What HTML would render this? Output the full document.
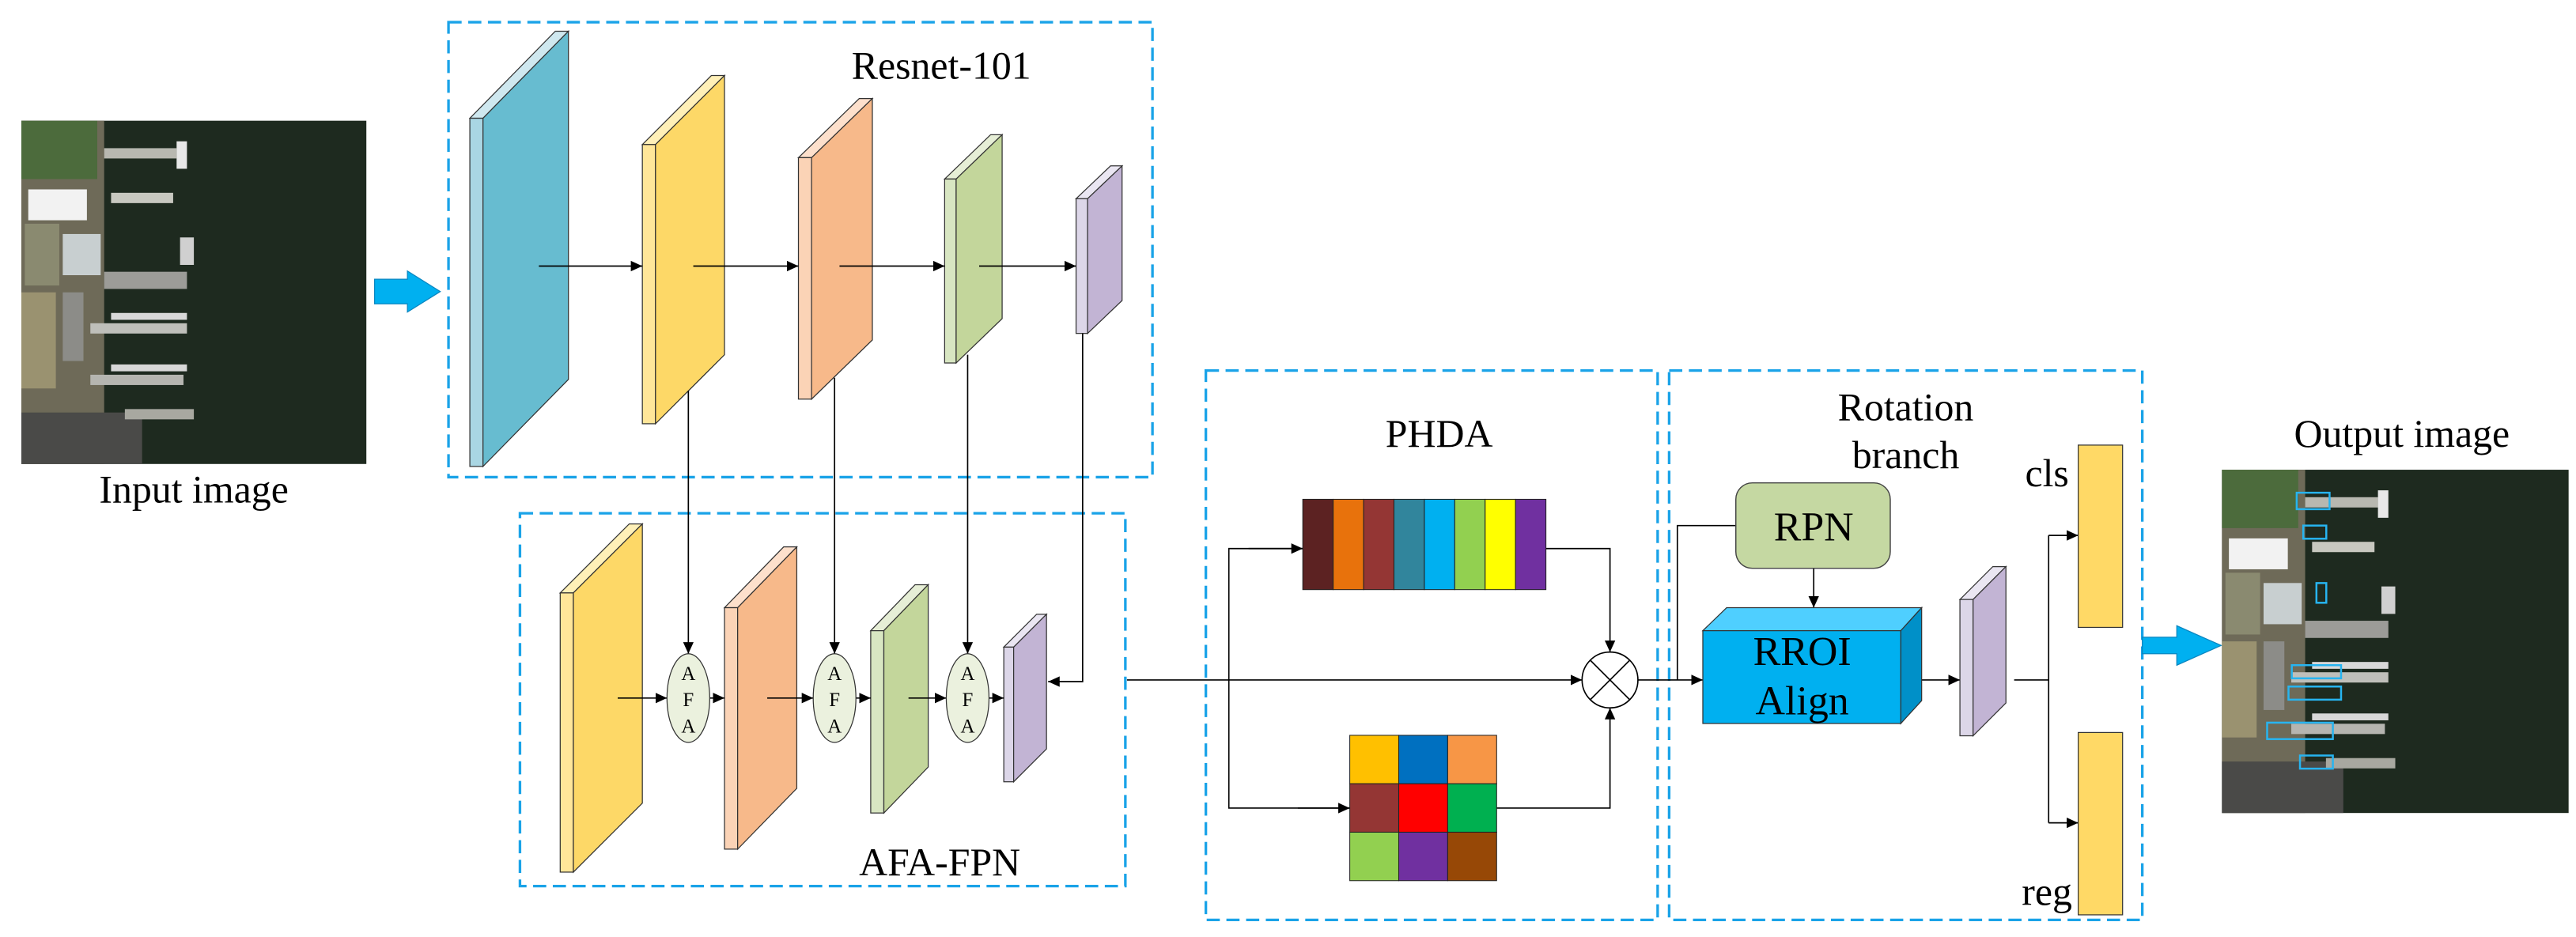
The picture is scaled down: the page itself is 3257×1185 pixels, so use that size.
<!DOCTYPE html>
<html><head><meta charset="utf-8"><style>
html,body{margin:0;padding:0;background:#fff;}
svg{display:block;}
text{font-family:"Liberation Serif",serif;fill:#000;}
</style></head><body>
<svg width="3257" height="1185" viewBox="0 0 1568 570.5" preserveAspectRatio="none" xmlns="http://www.w3.org/2000/svg">
<defs>
<marker id="ar" markerWidth="8" markerHeight="8" refX="7" refY="4" orient="auto" markerUnits="userSpaceOnUse"><path d="M0,0.8 L7,4 L0,7.2z" fill="#000"/></marker>
<g id="aer">
<rect x="0" y="0" width="100" height="100" fill="#1e2a1f"/>
<rect x="0" y="0" width="24" height="100" fill="#6e6a58"/>
<rect x="0" y="0" width="22" height="17" fill="#4c6b3c"/>
<rect x="2" y="20" width="17" height="9" fill="#f2f2f2"/>
<rect x="1" y="30" width="10" height="18" fill="#8a8a70"/>
<rect x="12" y="33" width="11" height="12" fill="#c8cfd0"/>
<rect x="0" y="50" width="10" height="28" fill="#9a9270"/>
<rect x="12" y="50" width="6" height="20" fill="#8c8c88"/>
<rect x="0" y="85" width="35" height="15" fill="#4a4a48"/>
<rect x="24" y="8" width="21" height="3" fill="#b8b8b0"/>
<rect x="24" y="44" width="24" height="5" fill="#9c9c98"/>
<rect x="20" y="59" width="28" height="3" fill="#bfbfba"/>
<rect x="26" y="56" width="22" height="2" fill="#d8d8d8"/>
<rect x="20" y="74" width="27" height="3" fill="#b5b5b0"/>
<rect x="26" y="71" width="22" height="2" fill="#d8d8d8"/>
<rect x="30" y="84" width="20" height="3" fill="#a8a8a0"/>
<rect x="26" y="21" width="18" height="3" fill="#c8c8c0"/>
<rect x="45" y="6" width="3" height="8" fill="#e8e8e8"/>
<rect x="46" y="34" width="4" height="8" fill="#d0d0d0"/>
</g>
</defs>

<!-- input image -->
<g transform="translate(13,73.5) scale(2.1,2.09)"><use href="#aer"/></g>
<text x="118" y="306" font-size="24" text-anchor="middle">Input image</text>
<path d="M228,170 L248,170 L248,165 L268,177.5 L248,190 L248,185 L228,185z" fill="#00b0f0" stroke="#0a86c0" stroke-width="0.6"/>

<!-- dashed boxes -->
<g fill="none" stroke="#1aa3e8" stroke-width="1.6" stroke-dasharray="8,4">
<rect x="273" y="13.5" width="428.5" height="277"/>
<rect x="316.5" y="312.5" width="368.5" height="227"/>
<rect x="734" y="225.6" width="275" height="334.5"/>
<rect x="1016" y="225.6" width="288" height="334.5"/>
</g>
<text x="573" y="48" font-size="24" text-anchor="middle">Resnet-101</text>
<text x="572" y="533" font-size="24" text-anchor="middle">AFA-FPN</text>

<!-- slabs -->
<g stroke="#333" stroke-width="0.6">
<!-- blue -->
<polygon points="286,72 338,19 346,19 294,72" fill="#cfe8ef"/>
<rect x="286" y="72" width="8" height="212" fill="#a9d6e3"/>
<polygon points="294,72 346,19 346,231 294,284" fill="#67bcd0"/>
<!-- yellow -->
<polygon points="391,88 433,46 441,46 399,88" fill="#fff0b8"/>
<rect x="391" y="88" width="8" height="170" fill="#ffe699"/>
<polygon points="399,88 441,46 441,216 399,258" fill="#fdd867"/>
<!-- orange -->
<polygon points="486,96 523,60 531,60 494,96" fill="#fde0cc"/>
<rect x="486" y="96" width="8" height="147" fill="#fbd3b6"/>
<polygon points="494,96 531,60 531,207 494,243" fill="#f7b98a"/>
<!-- green -->
<polygon points="575,109 603,82 610,82 582,109" fill="#e6eed6"/>
<rect x="575" y="109" width="7" height="112" fill="#d8e6c2"/>
<polygon points="582,109 610,82 610,194 582,221" fill="#c3d69b"/>
<!-- purple -->
<polygon points="655,121 676,101 683,101 662,121" fill="#eae6f2"/>
<rect x="655" y="121" width="7" height="82" fill="#dcd6e8"/>
<polygon points="662,121 683,101 683,183 662,203" fill="#c2b4d4"/>

<!-- FPN slabs -->
<polygon points="341,361 383,319 391,319 349,361" fill="#fff0b8"/>
<rect x="341" y="361" width="8" height="170" fill="#ffe699"/>
<polygon points="349,361 391,319 391,489 349,531" fill="#fdd867"/>
<polygon points="441,370 477,333 485,333 449,370" fill="#fde0cc"/>
<rect x="441" y="370" width="8" height="147" fill="#fbd3b6"/>
<polygon points="449,370 485,333 485,480 449,517" fill="#f7b98a"/>
<polygon points="530,384 557,356 565,356 538,384" fill="#e6eed6"/>
<rect x="530" y="384" width="8" height="111" fill="#d8e6c2"/>
<polygon points="538,384 565,356 565,467 538,495" fill="#c3d69b"/>
<polygon points="611,394 631,374 637,374 617,394" fill="#eae6f2"/>
<rect x="611" y="394" width="6" height="82" fill="#dcd6e8"/>
<polygon points="617,394 637,374 637,456 617,476" fill="#c2b4d4"/>
</g>

<!-- connectors -->
<g stroke="#000" stroke-width="0.8" fill="none">
<line x1="328" y1="162" x2="391" y2="162" marker-end="url(#ar)"/>
<line x1="422" y1="162" x2="486" y2="162" marker-end="url(#ar)"/>
<line x1="511" y1="162" x2="575" y2="162" marker-end="url(#ar)"/>
<line x1="596" y1="162" x2="655" y2="162" marker-end="url(#ar)"/>
<line x1="419" y1="238" x2="419" y2="398" marker-end="url(#ar)"/>
<line x1="508" y1="230" x2="508" y2="398" marker-end="url(#ar)"/>
<line x1="589" y1="216" x2="589" y2="398" marker-end="url(#ar)"/>
<polyline points="659,203 659,415 638,415" marker-end="url(#ar)"/>
<line x1="376" y1="425" x2="406" y2="425" marker-end="url(#ar)"/>
<line x1="432" y1="425" x2="441" y2="425" marker-end="url(#ar)"/>
<line x1="467" y1="425" x2="495" y2="425" marker-end="url(#ar)"/>
<line x1="521" y1="425" x2="530" y2="425" marker-end="url(#ar)"/>
<line x1="553" y1="425" x2="576" y2="425" marker-end="url(#ar)"/>
<line x1="602" y1="425" x2="611" y2="425" marker-end="url(#ar)"/>
<line x1="686" y1="414" x2="963" y2="414" marker-end="url(#ar)"/>
<polyline points="793,334 748,334 748,492 821.6,492" />
<line x1="760" y1="334" x2="793" y2="334" marker-end="url(#ar)"/>
<line x1="790" y1="492" x2="821.6" y2="492" marker-end="url(#ar)"/>
<polyline points="941,334 980,334 980,397" marker-end="url(#ar)"/>
<polyline points="911,492 980,492 980,431" marker-end="url(#ar)"/>
<line x1="997" y1="414" x2="1036.5" y2="414" marker-end="url(#ar)"/>
<polyline points="1056.6,320 1021,320 1021,414"/>
<line x1="1104" y1="346" x2="1104" y2="370" marker-end="url(#ar)"/>
<line x1="1157" y1="414" x2="1193" y2="414" marker-end="url(#ar)"/>
<polyline points="1226,414 1247,414"/>
<polyline points="1247,326 1247,501"/>
<line x1="1247" y1="326" x2="1265" y2="326" marker-end="url(#ar)"/>
<line x1="1247" y1="501" x2="1265" y2="501" marker-end="url(#ar)"/>
</g>

<!-- AFA ellipses -->
<g stroke="#333" stroke-width="0.6" fill="#ebf1de">
<ellipse cx="419" cy="425" rx="13" ry="27"/>
<ellipse cx="508" cy="425" rx="13" ry="27"/>
<ellipse cx="589" cy="425" rx="13" ry="27"/>
</g>
<g font-size="12" text-anchor="middle">
<text x="419" y="414">A</text><text x="419" y="430">F</text><text x="419" y="446">A</text>
<text x="508" y="414">A</text><text x="508" y="430">F</text><text x="508" y="446">A</text>
<text x="589" y="414">A</text><text x="589" y="430">F</text><text x="589" y="446">A</text>
</g>

<!-- PHDA -->
<text x="876" y="272" font-size="24" text-anchor="middle">PHDA</text>
<g stroke="#222" stroke-width="0.5">
<rect x="793" y="304" width="18.5" height="55" fill="#5c2222"/>
<rect x="811.5" y="304" width="18.5" height="55" fill="#e8720c"/>
<rect x="830" y="304" width="18.5" height="55" fill="#943634"/>
<rect x="848.5" y="304" width="18.5" height="55" fill="#31859c"/>
<rect x="867" y="304" width="18.5" height="55" fill="#00b0f0"/>
<rect x="885.5" y="304" width="18.5" height="55" fill="#92d050"/>
<rect x="904" y="304" width="18.5" height="55" fill="#ffff00"/>
<rect x="922.5" y="304" width="18.5" height="55" fill="#7030a0"/>
<rect x="821.6" y="447.7" width="29.8" height="29.5" fill="#ffc000"/>
<rect x="851.4" y="447.7" width="29.8" height="29.5" fill="#0070c0"/>
<rect x="881.2" y="447.7" width="29.8" height="29.5" fill="#f79646"/>
<rect x="821.6" y="477.2" width="29.8" height="29.5" fill="#943634"/>
<rect x="851.4" y="477.2" width="29.8" height="29.5" fill="#ff0000"/>
<rect x="881.2" y="477.2" width="29.8" height="29.5" fill="#00b050"/>
<rect x="821.6" y="506.7" width="29.8" height="29.5" fill="#92d050"/>
<rect x="851.4" y="506.7" width="29.8" height="29.5" fill="#7030a0"/>
<rect x="881.2" y="506.7" width="29.8" height="29.5" fill="#974806"/>
</g>
<circle cx="980" cy="414" r="17" fill="#fff" stroke="#000" stroke-width="0.8"/>
<path d="M968,402 L992,426 M992,402 L968,426" stroke="#000" stroke-width="0.8"/>

<!-- Rotation branch -->
<text x="1160" y="256" font-size="24" text-anchor="middle">Rotation</text>
<text x="1160" y="285" font-size="24" text-anchor="middle">branch</text>
<rect x="1056.6" y="294" width="94" height="52" rx="10" fill="#c5d8a2" stroke="#444" stroke-width="0.7"/>
<text x="1104" y="329" font-size="25" text-anchor="middle">RPN</text>
<polygon points="1036.5,384 1051,370 1169.7,370 1157,384" fill="#4fcfff" stroke="#333" stroke-width="0.6"/>
<polygon points="1157,384 1169.7,370 1169.7,426.6 1157,440.5" fill="#0090c8" stroke="#333" stroke-width="0.6"/>
<rect x="1036.5" y="384" width="120.5" height="56.5" fill="#00b0f0" stroke="#333" stroke-width="0.6"/>
<text x="1097" y="405" font-size="25" text-anchor="middle">RROI</text>
<text x="1097" y="435" font-size="25" text-anchor="middle">Align</text>
<g stroke="#333" stroke-width="0.6">
<polygon points="1193,365 1213,345 1221,345 1201,365" fill="#eae6f2"/>
<rect x="1193" y="365" width="8" height="83" fill="#dcd6e8"/>
<polygon points="1201,365 1221,345 1221,428 1201,448" fill="#c2b4d4"/>
<rect x="1265" y="271" width="27" height="111" fill="#ffd966"/>
<rect x="1265" y="446" width="27" height="111" fill="#ffd966"/>
</g>
<text x="1246" y="296" font-size="24" text-anchor="middle">cls</text>
<text x="1246" y="551" font-size="24" text-anchor="middle">reg</text>

<!-- output -->
<path d="M1304,388 L1325,388 L1325,381 L1352,393 L1325,405 L1325,398 L1304,398z" fill="#00b0f0" stroke="#0a86c0" stroke-width="0.6"/>
<text x="1462" y="272" font-size="24" text-anchor="middle">Output image</text>
<g transform="translate(1352.5,286) scale(2.11,2.09)"><use href="#aer"/></g>
<g fill="none" stroke="#27b4f0" stroke-width="1.2">
<rect x="1398" y="300" width="20" height="10"/><rect x="1402" y="320" width="14" height="8"/>
<rect x="1410" y="355" width="6" height="12"/><rect x="1395" y="405" width="30" height="8"/>
<rect x="1393" y="418" width="32" height="8"/><rect x="1380" y="440" width="40" height="10"/>
<rect x="1400" y="460" width="20" height="8"/>
</g>
</svg>
</body></html>
